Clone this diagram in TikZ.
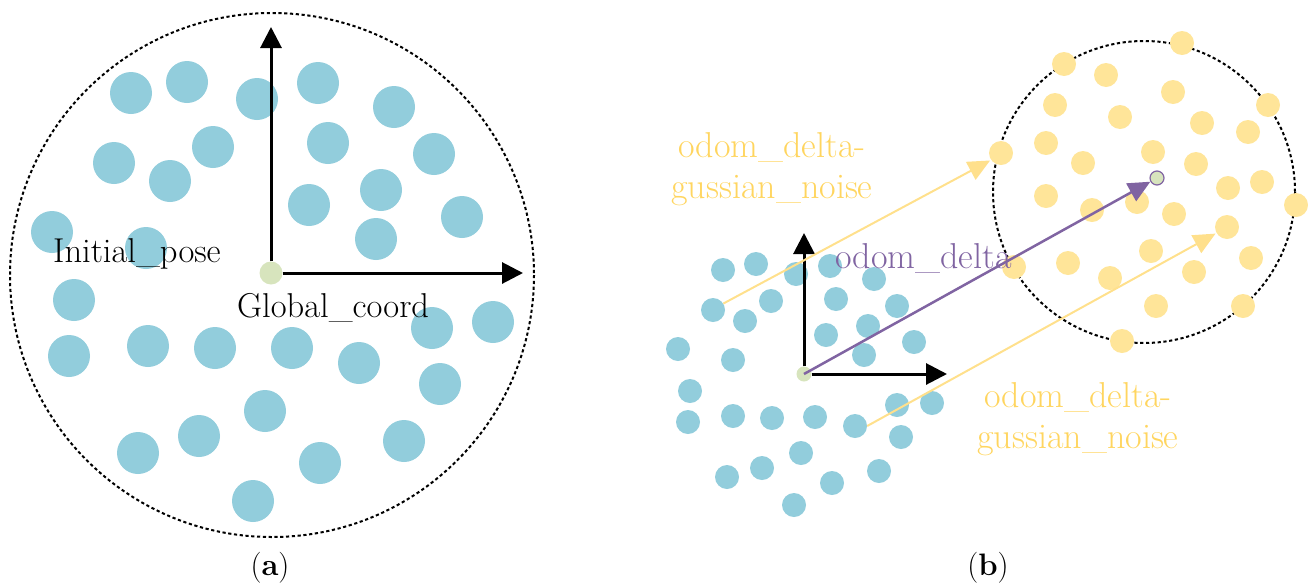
\documentclass[tikz,border=0pt]{standalone}
\usetikzlibrary{arrows.meta}
\definecolor{pblue}{RGB}{146,205,220}
\definecolor{pyel}{RGB}{255,229,153}
\definecolor{tyel}{RGB}{255,213,95}
\definecolor{lyel}{RGB}{255,224,140}
\definecolor{ppur}{RGB}{128,100,162}
\definecolor{pgreen}{RGB}{215,228,189}
\newcommand\labfontA{\fontsize{34.5}{40}\selectfont}
\newcommand\labfontB{\fontsize{36}{41}\selectfont}
\newcommand\capfontX{\fontsize{31}{34}\selectfont}
\begin{document}
\begin{tikzpicture}[x=1pt,y=-1pt,
  bigp/.style={circle,fill=pblue,inner sep=0pt,minimum size=42pt},
  smp/.style={circle,fill=pblue,inner sep=0pt,minimum size=24pt},
  yp/.style={circle,fill=pyel,inner sep=0pt,minimum size=24pt},
  bound/.style={draw=black,line width=2pt,dash pattern=on 3.2pt off 2.6pt},
  axisarrow/.style={draw=black,line width=3pt,-{Triangle[length=21pt,width=21pt]}},
  yarrow/.style={draw=lyel,line width=2pt,-{Triangle[length=22pt,width=20pt]},shorten >=1pt},
  parrow/.style={draw=ppur,line width=2.5pt,-{Triangle[length=22pt,width=20pt]}},
  gdot/.style={circle,fill=pgreen,inner sep=0pt},
  txt/.style={inner sep=0pt}]
\useasboundingbox (0,0) rectangle (1312,587);
% ---------- (a) ----------
\draw[bound] (272,275) circle [radius=262];
\node[bigp] (a1) at (131,93) {};
\node[bigp] (a2) at (187,82) {};
\node[bigp] (a3) at (257,99) {};
\node[bigp] (a4) at (318,83) {};
\node[bigp] (a5) at (394,107) {};
\node[bigp] (a6) at (114,163) {};
\node[bigp] (a7) at (170,181) {};
\node[bigp] (a8) at (213,147) {};
\node[bigp] (a9) at (328,143) {};
\node[bigp] (a10) at (434,154) {};
\node[bigp] (a11) at (52,232) {};
\node[bigp] (a12) at (146,248) {};
\node[bigp] (a13) at (309,205) {};
\node[bigp] (a14) at (381,190) {};
\node[bigp] (a15) at (462,217) {};
\node[bigp] (a16) at (376,239) {};
\node[bigp] (a17) at (74,300) {};
\node[bigp] (a18) at (69,356) {};
\node[bigp] (a19) at (148,346) {};
\node[bigp] (a20) at (215,348) {};
\node[bigp] (a21) at (292,348) {};
\node[bigp] (a22) at (359,363) {};
\node[bigp] (a23) at (432,328) {};
\node[bigp] (a24) at (493,322) {};
\node[bigp] (a25) at (440,384) {};
\node[bigp] (a26) at (265,411) {};
\node[bigp] (a27) at (138,453) {};
\node[bigp] (a28) at (199,436) {};
\node[bigp] (a29) at (253,501) {};
\node[bigp] (a30) at (320,463) {};
\node[bigp] (a31) at (404,441) {};
\node[gdot,minimum size=23pt] (o1) at (271,273) {};
\coordinate (o1y) at (271,27);
\coordinate (o1x) at (523,273);
\draw[axisarrow] (o1.north) -- (o1y);
\draw[axisarrow] (o1.east) -- (o1x);
\node[txt,anchor=base west,font=\labfontA] (lip) at (53,262) {Initial\_pose};
\node[txt,anchor=base west,font=\labfontA] (lgc) at (237,317) {Global\_coord};
\node[txt,font=\capfontX] (capa) at (270,568) {(\textbf{a})};
% ---------- (b) ----------
\draw[bound] (1144,192) circle [radius=151];
\node[smp] (b1) at (723,270) {};
\node[smp] (b2) at (756,264) {};
\node[smp] (b3) at (796,274) {};
\node[smp] (b4) at (830,266) {};
\node[smp] (b5) at (874,279) {};
\node[smp] (b6) at (713,310) {};
\node[smp] (b7) at (745,321) {};
\node[smp] (b8) at (771,301) {};
\node[smp] (b9) at (836,299) {};
\node[smp] (b10) at (897,306) {};
\node[smp] (b11) at (826,335) {};
\node[smp] (b12) at (868,326) {};
\node[smp] (b13) at (864,355) {};
\node[smp] (b14) at (914,342) {};
\node[smp] (b15) at (678,349) {};
\node[smp] (b16) at (733,360) {};
\node[smp] (b17) at (690,391) {};
\node[smp] (b18) at (688,422) {};
\node[smp] (b19) at (733,416) {};
\node[smp] (b20) at (772,418) {};
\node[smp] (b21) at (815,417) {};
\node[smp] (b22) at (855,426) {};
\node[smp] (b23) at (897,405) {};
\node[smp] (b24) at (932,403) {};
\node[smp] (b25) at (901,437) {};
\node[smp] (b26) at (801,453) {};
\node[smp] (b27) at (762,468) {};
\node[smp] (b28) at (727,477) {};
\node[smp] (b29) at (832,483) {};
\node[smp] (b30) at (879,471) {};
\node[smp] (b31) at (794,505) {};
\node[yp] (y1) at (1182,43) {};
\node[yp] (y2) at (1064,64) {};
\node[yp] (y3) at (1106,75) {};
\node[yp] (y4) at (1173,92) {};
\node[yp] (y5) at (1055,105) {};
\node[yp] (y6) at (1120,117) {};
\node[yp] (y7) at (1268,105) {};
\node[yp] (y8) at (1202,123) {};
\node[yp] (y9) at (1248,132) {};
\node[yp] (y10) at (1046,143) {};
\node[yp] (y11) at (1001,153) {};
\node[yp] (y12) at (1083,163) {};
\node[yp] (y13) at (1153,152) {};
\node[yp] (y14) at (1196,164) {};
\node[yp] (y15) at (1046,196) {};
\node[yp] (y16) at (1092,210) {};
\node[yp] (y17) at (1137,202) {};
\node[yp] (y18) at (1174,214) {};
\node[yp] (y19) at (1228,188) {};
\node[yp] (y20) at (1262,182) {};
\node[yp] (y21) at (1296,205) {};
\node[yp] (y22) at (1227,227) {};
\node[yp] (y23) at (1014,267) {};
\node[yp] (y24) at (1068,263) {};
\node[yp] (y25) at (1110,278) {};
\node[yp] (y26) at (1151,251) {};
\node[yp] (y27) at (1194,272) {};
\node[yp] (y28) at (1251,258) {};
\node[yp] (y29) at (1156,306) {};
\node[yp] (y30) at (1243,306) {};
\node[yp] (y31) at (1122,341) {};
\node[gdot,minimum size=15pt] (o2) at (804,374) {};
\node[gdot,draw=ppur,line width=1.2pt,minimum size=14pt] (t2) at (1157,178) {};
\coordinate (o2y) at (804,233);
\coordinate (o2x) at (947,374);
\draw[axisarrow] (o2.north) -- (o2y);
\draw[axisarrow] (o2.east) -- (o2x);
\draw[yarrow] (b6.32) -- (y11.215);
\draw[yarrow] (b22.0) -- (y22.210);
\draw[parrow] (o2.center) -- (t2);
\node[txt,anchor=north,align=center,font=\labfontB,text=tyel] (lup) at (772,132) {odom\_delta-\\gussian\_noise};
\node[txt,anchor=north,align=center,font=\labfontB,text=tyel] (llo) at (1078,382) {odom\_delta-\\gussian\_noise};
\node[txt,anchor=base west,font=\labfontB,text=ppur] (lpd) at (835,268) {odom\_delta};
\node[txt,font=\capfontX] (capb) at (988,568) {(\textbf{b})};
\end{tikzpicture}
\end{document}
